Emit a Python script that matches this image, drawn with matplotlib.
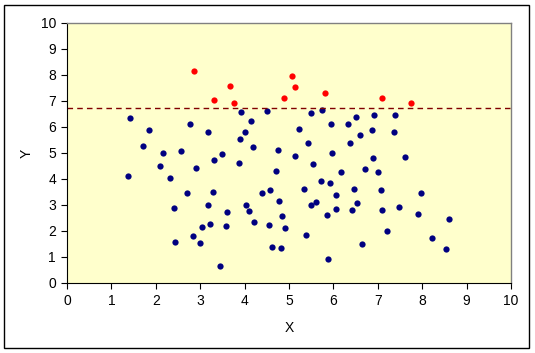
import matplotlib
matplotlib.use("Agg")
import matplotlib.pyplot as plt
from matplotlib.patches import Rectangle

plt.rcParams['font.family'] = ['Liberation Sans', 'DejaVu Sans']

# Points above the threshold (red)
red_x = [2.87, 3.32, 3.68, 3.75, 4.88, 5.06, 5.13, 5.80, 7.10, 7.75]
red_y = [8.14, 7.02, 7.56, 6.91, 7.11, 7.96, 7.53, 7.29, 7.10, 6.91]

# Points below the threshold (blue)
blue_x = [1.43, 1.38, 1.72, 1.85, 2.10, 2.17, 2.33, 2.42, 2.43, 2.57,
          2.71, 2.78, 2.83, 2.91, 3.00, 3.04, 3.18, 3.18, 3.23, 3.28,
          3.30, 3.44, 3.50, 3.57, 3.61, 3.88, 3.90, 3.93, 4.00, 4.03,
          4.09, 4.14, 4.20, 4.22, 4.39, 4.50, 4.55, 4.58, 4.62, 4.70,
          4.75, 4.77, 4.82, 4.85, 4.90, 5.13, 5.22, 5.33, 5.38, 5.42,
          5.49, 5.49, 5.53, 5.61, 5.72, 5.74, 5.86, 5.88, 5.92, 5.94,
          5.97, 6.06, 6.06, 6.16, 6.33, 6.37, 6.42, 6.47, 6.51, 6.53,
          6.59, 6.64, 6.71, 6.86, 6.89, 6.91, 7.00, 7.07, 7.10, 7.20,
          7.37, 7.39, 7.47, 7.61, 7.90, 7.97, 8.22, 8.54, 8.61]
blue_y = [6.34, 4.12, 5.28, 5.89, 4.51, 5.01, 4.05, 2.89, 1.57, 5.08,
          3.47, 6.11, 1.80, 4.43, 1.53, 2.16, 5.79, 3.00, 2.27, 3.51,
          4.74, 0.64, 4.97, 2.19, 2.73, 4.63, 5.55, 6.56, 5.82, 2.99,
          2.77, 6.25, 5.24, 2.35, 3.47, 6.60, 2.23, 3.57, 1.40, 4.32,
          5.13, 3.14, 1.34, 2.59, 2.13, 4.90, 5.92, 3.62, 1.84, 5.40,
          6.52, 2.99, 4.59, 3.12, 3.93, 6.64, 2.62, 0.91, 3.85, 6.11,
          5.00, 3.38, 2.85, 4.28, 6.11, 5.40, 2.81, 3.61, 6.40, 3.08,
          5.68, 1.51, 4.39, 5.88, 4.82, 6.48, 4.28, 3.58, 2.81, 2.00,
          5.80, 6.48, 2.93, 4.86, 2.65, 3.47, 1.75, 1.29, 2.46]

threshold = 6.75
ticks = list(range(0, 11))

W, H = 535, 353
fig = plt.figure(figsize=(W / 100, H / 100), dpi=100)
fig.patch.set_facecolor('white')
fig.patches.append(Rectangle((4 / W, 5 / H), 525 / W, 343 / H, transform=fig.transFigure,
                             fill=False, edgecolor='black', linewidth=1.0))

left, right, top, bottom = 67, 511, 23, 283
ax = fig.add_axes([left / W, 1 - bottom / H, (right - left) / W, (bottom - top) / H])
ax.set_facecolor('#FFFFCC')

ax.plot(blue_x, blue_y, 'o', color='#000080', markersize=4.5, markeredgewidth=0)
ax.plot(red_x, red_y, 'o', color='#FF0000', markersize=4.5, markeredgewidth=0)
ax.axhline(threshold, color='#800000', linestyle=(0, (4, 3)), linewidth=1.0)

ax.set_xlim(0, 10)
ax.set_ylim(0, 10)
ax.set_xticks(ticks)
ax.set_yticks(ticks)
ax.tick_params(direction='out', length=4, width=0.8, labelsize=10, colors='black', pad=4)
ax.set_xlabel('X', fontsize=10, labelpad=9)
ax.set_ylabel('Y', fontsize=10)
ax.yaxis.set_label_coords(-0.075, 0.5)

for s in ['top', 'right']:
    ax.spines[s].set_color('#808080')
    ax.spines[s].set_linewidth(1.0)
for s in ['left', 'bottom']:
    ax.spines[s].set_color('black')
    ax.spines[s].set_linewidth(0.8)

fig.savefig('out.png', dpi=100)
